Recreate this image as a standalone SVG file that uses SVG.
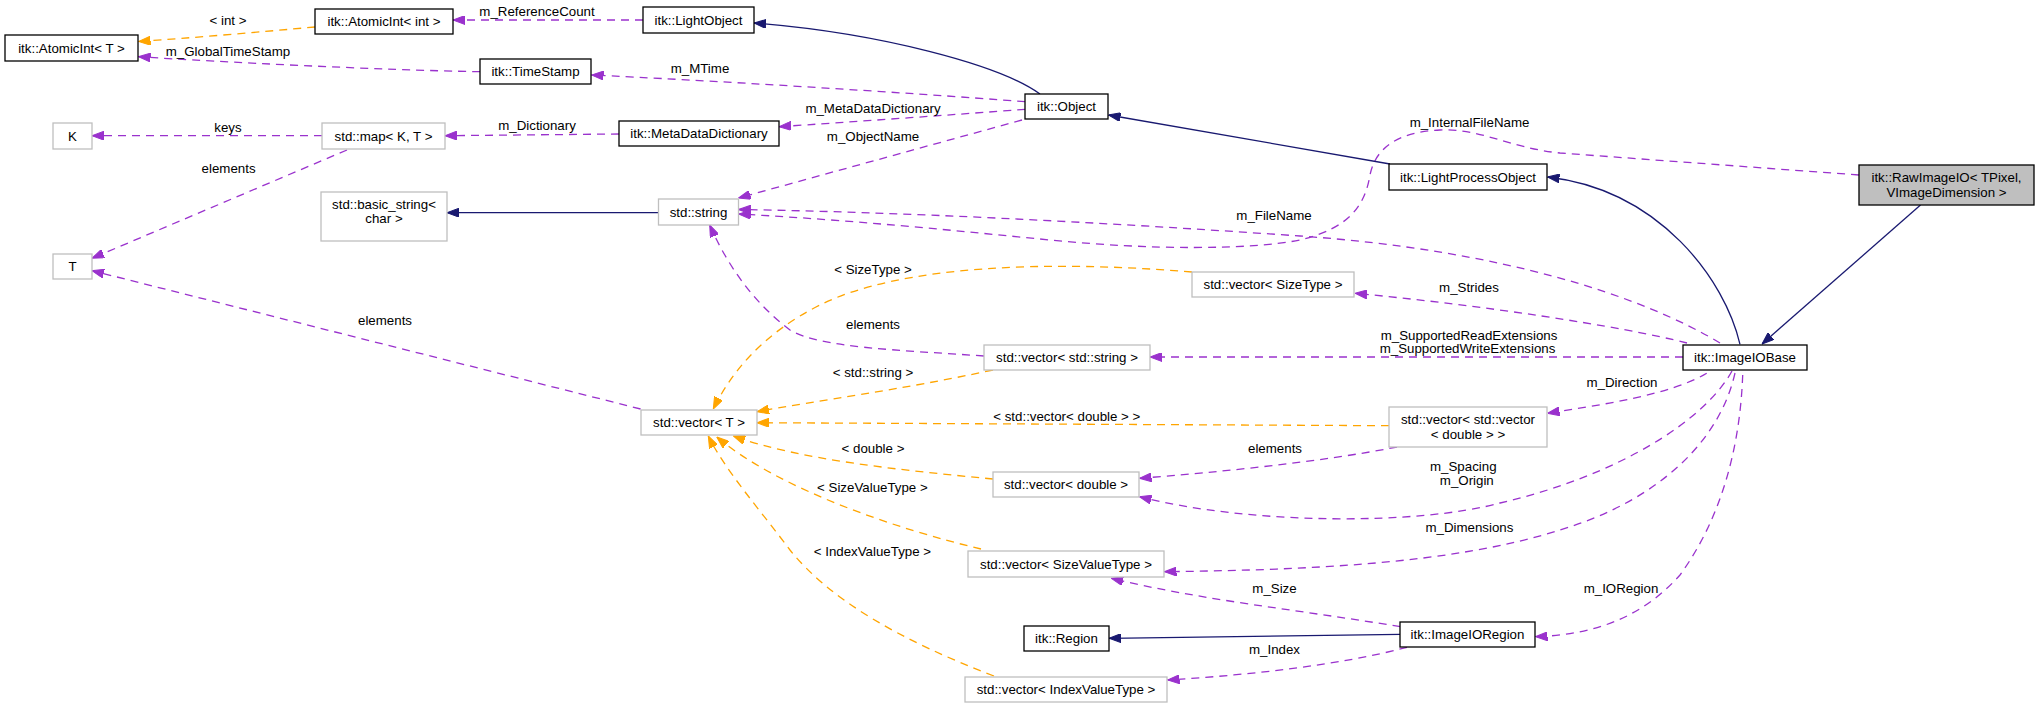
<svg xmlns="http://www.w3.org/2000/svg" width="2040" height="708" viewBox="0 0 2040 708">
<style>
text{font-family:"Liberation Sans",Arial,Helvetica,sans-serif;font-size:13.3px;text-anchor:middle;fill:#000}
.n rect{fill:#fff;stroke:#000;stroke-width:1.3}
.g rect{fill:#fff;stroke:#bfbfbf;stroke-width:1.3}
.c path{fill:none;stroke-width:1.3}
.c .p{stroke:#9a32cd;stroke-dasharray:8,6;marker-end:url(#ap)}
.c .o{stroke:#ffa500;stroke-dasharray:8,6;marker-end:url(#ao)}
.c .b{stroke:#191970;marker-end:url(#ab)}
</style>
<defs>
<marker id="ap" viewBox="0 0 12 9" refX="12" refY="4.5" markerWidth="12" markerHeight="9" markerUnits="userSpaceOnUse" orient="auto"><path d="M0,0 L12,4.5 L0,9 z" fill="#9a32cd" stroke="#9a32cd" stroke-width="1"/></marker>
<marker id="ao" viewBox="0 0 12 9" refX="12" refY="4.5" markerWidth="12" markerHeight="9" markerUnits="userSpaceOnUse" orient="auto"><path d="M0,0 L12,4.5 L0,9 z" fill="#ffa500" stroke="#ffa500" stroke-width="1"/></marker>
<marker id="ab" viewBox="0 0 12 9" refX="12" refY="4.5" markerWidth="12" markerHeight="9" markerUnits="userSpaceOnUse" orient="auto"><path d="M0,0 L12,4.5 L0,9 z" fill="#191970" stroke="#191970" stroke-width="1"/></marker>
</defs>
<rect width="2040" height="708" fill="#fff"/>

<g id="connectors" class="c">
<path class="o" d="M315,27 C260,32 190,38 138.5,41.5"/>
<text x="228" y="25.3">&lt; int &gt;</text>
<path class="p" d="M480,71.7 C380,70 220,62 138.5,56.7"/>
<text x="228" y="56.3">m_GlobalTimeStamp</text>
<path class="p" d="M643,20 L453,20"/>
<text x="537" y="16.3">m_ReferenceCount</text>
<path class="b" d="M1040,94 C1000,65 880,33 754,23"/>
<path class="p" d="M1025,101.7 C900,92 700,80 591.5,75"/>
<text x="700" y="73">m_MTime</text>
<path class="p" d="M1025,109.3 C950,115 850,122 779,126.7"/>
<text x="873" y="113">m_MetaDataDictionary</text>
<path class="p" d="M619,134 L445,135.7"/>
<text x="537" y="129.6">m_Dictionary</text>
<path class="p" d="M322,135.7 L92,135.7"/>
<text x="228" y="132.3">keys</text>
<path class="p" d="M347,150 L92,258.3"/>
<text x="228.6" y="173">elements</text>
<path class="p" d="M1022,120 L738.5,198"/>
<text x="873" y="141.3">m_ObjectName</text>
<path class="b" d="M658.5,212.7 L447,212.7"/>
<path class="p" d="M640.6,409 L92,270.7"/>
<text x="385" y="324.6">elements</text>
<path class="p" d="M1720,343 C1640,295 1500,250 1300,236 C1100,222 900,212 738.7,209.5"/>
<text x="1274" y="219.6">m_FileName</text>
<path class="p" d="M1859,175 L1560,153 C1510,148 1480,128 1440,130 C1395,132 1375,150 1370,175 C1365,205 1350,228 1300,240 C1250,250 1150,250 1050,240 C950,230 850,220 738.7,214"/>
<text x="1469.5" y="127.3">m_InternalFileName</text>
<path class="b" d="M1390,164 L1108.5,115"/>
<path class="b" d="M1740,344.3 C1725,280 1660,190 1547.5,177"/>
<path class="b" d="M1920.5,205 L1762,344"/>
<path class="p" d="M1687,343 C1620,326 1480,305 1355,293.3"/>
<text x="1469" y="292.3">m_Strides</text>
<path class="p" d="M1683,357 L1150,357"/>
<text x="1469" y="339.6">m_SupportedReadExtensions</text>
<text x="1467.5" y="353.3">m_SupportedWriteExtensions</text>
<path class="o" d="M1192,272 C1050,260 900,265 820,305 C760,335 730,375 713.3,409"/>
<text x="873" y="273.9">&lt; SizeType &gt;</text>
<path class="p" d="M984,356 C900,350 820,348 790,330 C750,300 725,260 709.7,225"/>
<text x="873" y="328.6">elements</text>
<path class="o" d="M993,370 C900,390 820,400 757,411.7"/>
<text x="873" y="376.6">&lt; std::string &gt;</text>
<path class="o" d="M1389,425.7 L757,422.7"/>
<text x="1066.8" y="420.6">&lt; std::vector&lt; double &gt; &gt;</text>
<path class="p" d="M1706.7,373.3 C1670,395 1600,405 1547.5,413.3"/>
<text x="1622" y="387.3">m_Direction</text>
<path class="o" d="M993,479 C900,470 800,460 733.3,436"/>
<text x="873" y="452.9">&lt; double &gt;</text>
<path class="p" d="M1397,447 C1320,462 1220,472 1139.5,478.3"/>
<text x="1275" y="452.9">elements</text>
<path class="p" d="M1732,371 C1705,420 1620,475 1500,503 C1420,525 1250,525 1139.5,496.7"/>
<text x="1463.3" y="471.3">m_Spacing</text>
<text x="1466.8" y="485.3">m_Origin</text>
<path class="p" d="M1735,373 C1720,440 1660,500 1560,530 C1450,565 1300,570 1164.5,571.7"/>
<text x="1469.4" y="532.3">m_Dimensions</text>
<path class="p" d="M1742.7,375 C1740,450 1720,520 1680,575 C1640,620 1590,635 1535.5,636.7"/>
<text x="1621" y="592.9">m_IORegion</text>
<path class="o" d="M981,549 C900,530 780,490 716.7,437"/>
<text x="872.4" y="491.9">&lt; SizeValueType &gt;</text>
<path class="o" d="M994,676 C900,640 830,600 790,550 C760,510 725,470 708.3,436"/>
<text x="872.4" y="555.6">&lt; IndexValueType &gt;</text>
<path class="p" d="M1400.5,626.7 C1300,610 1200,600 1111.2,578.3"/>
<text x="1274.5" y="592.9">m_Size</text>
<path class="b" d="M1400,634.3 L1109,638.3"/>
<path class="p" d="M1407,647.3 C1340,665 1250,675 1167.5,680"/>
<text x="1274.5" y="653.6">m_Index</text>
</g>

<g id="AtomicIntT" class="n"><rect x="5" y="35" width="133" height="26"/><text x="71.5" y="52.6">itk::AtomicInt&lt; T &gt;</text></g>
<g id="AtomicIntInt" class="n"><rect x="315" y="9" width="138" height="25"/><text x="384" y="26.1">itk::AtomicInt&lt; int &gt;</text></g>
<g id="LightObject" class="n"><rect x="643" y="7" width="111" height="26"/><text x="698.5" y="24.6">itk::LightObject</text></g>
<g id="TimeStamp" class="n"><rect x="480" y="59" width="111" height="25"/><text x="535.5" y="76.1">itk::TimeStamp</text></g>
<g id="K" class="g"><rect x="53" y="123" width="39" height="26"/><text x="72.5" y="140.6">K</text></g>
<g id="StdMap" class="g"><rect x="322" y="123" width="123" height="26"/><text x="383.5" y="140.6">std::map&lt; K, T &gt;</text></g>
<g id="MetaDataDictionary" class="n"><rect x="619" y="121" width="160" height="25"/><text x="699" y="138.1">itk::MetaDataDictionary</text></g>
<g id="BasicString" class="g"><rect x="321" y="192" width="126" height="49"/><text x="384" y="208.6">std::basic_string&lt;</text><text x="384" y="223.1">char &gt;</text></g>
<g id="StdString" class="g"><rect x="658.5" y="199" width="80" height="26"/><text x="698.5" y="216.6">std::string</text></g>
<g id="Object" class="n"><rect x="1025" y="94" width="83" height="25"/><text x="1066.5" y="111.1">itk::Object</text></g>
<g id="T" class="g"><rect x="53" y="254" width="39" height="25"/><text x="72.5" y="271.1">T</text></g>
<g id="LightProcessObject" class="n"><rect x="1389" y="164" width="158" height="26"/><text x="1468" y="181.6">itk::LightProcessObject</text></g>
<g id="RawImageIO" class="n"><rect x="1859" y="165" width="175" height="40" style="fill:#bfbfbf"/><text x="1946.5" y="182.1">itk::RawImageIO&lt; TPixel,</text><text x="1946.5" y="197.1">VImageDimension &gt;</text></g>
<g id="VectorSizeType" class="g"><rect x="1192" y="272" width="162" height="25"/><text x="1273" y="289.1">std::vector&lt; SizeType &gt;</text></g>
<g id="VectorString" class="g"><rect x="984" y="345" width="166" height="25"/><text x="1067" y="362.1">std::vector&lt; std::string &gt;</text></g>
<g id="ImageIOBase" class="n"><rect x="1683" y="345" width="124" height="25"/><text x="1745" y="362.1">itk::ImageIOBase</text></g>
<g id="VectorT" class="g"><rect x="641" y="410" width="116" height="25"/><text x="699" y="427.1">std::vector&lt; T &gt;</text></g>
<g id="VectorVectorDouble" class="g"><rect x="1389" y="407" width="158" height="40"/><text x="1468" y="424.1">std::vector&lt; std::vector</text><text x="1468" y="439.1">&lt; double &gt; &gt;</text></g>
<g id="VectorDouble" class="g"><rect x="993" y="472" width="146" height="25"/><text x="1066" y="489.1">std::vector&lt; double &gt;</text></g>
<g id="VectorSizeValueType" class="g"><rect x="968" y="551" width="196" height="26"/><text x="1066" y="568.6">std::vector&lt; SizeValueType &gt;</text></g>
<g id="Region" class="n"><rect x="1024" y="626" width="85" height="25"/><text x="1066.5" y="643.1">itk::Region</text></g>
<g id="ImageIORegion" class="n"><rect x="1400" y="622" width="135" height="25"/><text x="1467.5" y="639.1">itk::ImageIORegion</text></g>
<g id="VectorIndexValueType" class="g"><rect x="965" y="677" width="202" height="25"/><text x="1066" y="694.1">std::vector&lt; IndexValueType &gt;</text></g>
</svg>
